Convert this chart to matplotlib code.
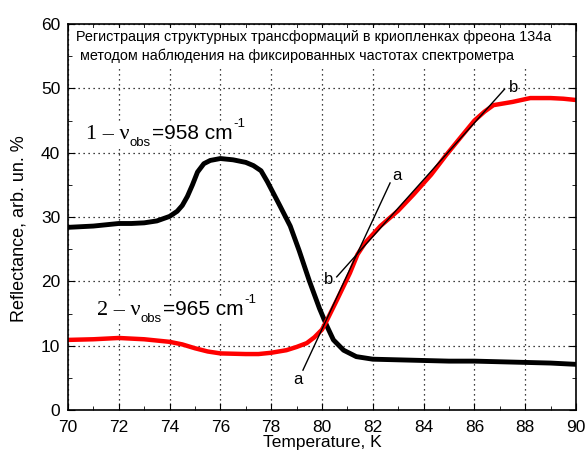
import matplotlib
matplotlib.use('Agg')
import matplotlib.pyplot as plt
from matplotlib.patches import Rectangle
from matplotlib.ticker import MultipleLocator

plt.rcParams['font.family'] = ['Liberation Sans', 'DejaVu Sans']

# curve 1 - nu_obs = 958 cm-1 (black)
t_black = [70.0, 70.5, 71.0, 71.5, 72.0, 72.5, 73.0, 73.5, 74.0, 74.3, 74.5, 74.7,
           74.9, 75.1, 75.35, 75.6, 76.0, 76.5, 77.0, 77.3, 77.6, 77.85, 78.1, 78.35,
           78.75, 79.1, 79.5, 79.9, 80.2, 80.45, 80.85, 81.35, 82.0, 83.0, 84.0, 85.0,
           86.0, 87.0, 88.0, 89.0, 90.0]
r_black = [28.4, 28.5, 28.6, 28.8, 29.0, 29.0, 29.1, 29.4, 30.1, 30.9, 31.8, 33.2,
           35.0, 37.0, 38.3, 38.8, 39.1, 38.9, 38.5, 38.0, 37.2, 35.5, 33.6, 31.7,
           28.6, 24.8, 20.1, 15.8, 13.0, 10.9, 9.3, 8.3, 7.9, 7.8, 7.7, 7.6,
           7.6, 7.5, 7.4, 7.3, 7.1]

# curve 2 - nu_obs = 965 cm-1 (red)
t_red = [70.0, 71.0, 72.0, 73.0, 74.0, 74.5, 75.0, 75.5, 76.0, 77.0, 77.5, 78.0,
         78.6, 79.0, 79.4, 79.7, 80.0, 80.2, 80.6, 81.1, 81.4, 81.7, 82.3, 83.0,
         83.6, 84.3, 84.9, 85.5, 86.0, 86.4, 86.75, 87.5, 88.2, 89.0, 89.5, 90.0]
r_red = [10.9, 11.0, 11.2, 11.0, 10.6, 10.2, 9.6, 9.1, 8.8, 8.7, 8.7, 8.9,
         9.3, 9.8, 10.4, 11.3, 12.5, 14.0, 17.2, 21.3, 24.2, 26.0, 28.6, 31.0,
         33.5, 36.6, 39.7, 42.6, 45.0, 46.4, 47.4, 47.9, 48.5, 48.5, 48.4, 48.2]

# tangent lines a and b
line_a_t = [79.25, 82.68]
line_a_r = [6.2, 35.3]
line_b_t = [80.58, 87.19]
line_b_r = [20.7, 49.9]

title_text = ("Регистрация структурных трансформаций в криопленках фреона 134а\n"
              " методом наблюдения на фиксированных частотах спектрометра")

fig = plt.figure(figsize=(5.88, 4.54), dpi=100)
ax = fig.add_axes([0.1156, 0.0969, 0.864, 0.850])

ax.plot(t_black, r_black, color='black', lw=3.5, zorder=2)
ax.plot(t_red, r_red, color='red', lw=3.2, zorder=2.1)
ax.plot(line_a_t, line_a_r, color='black', lw=1, zorder=3)
ax.plot(line_b_t, line_b_r, color='black', lw=1, zorder=3)

ax.text(79.05, 4.8, 'a', fontsize=12, ha='center', va='center')
ax.text(82.95, 36.4, 'a', fontsize=12, ha='center', va='center')
ax.text(80.25, 20.3, 'b', fontsize=12, ha='center', va='center')
ax.text(87.55, 50.1, 'b', fontsize=12, ha='center', va='center')


def curve_label(x, y, num, freq):
    box = dict(facecolor='white', edgecolor='none', pad=1.5)
    t1 = ax.text(x, y, num + ' \u2013 \u03bd', family='Liberation Serif', fontsize=16,
                 va='baseline', bbox=box, zorder=1.5)
    t2 = ax.annotate('obs', xy=(1, y), xycoords=(t1, 'data'), xytext=(0.5, -5),
                     textcoords='offset points', fontsize=9.5, va='baseline',
                     bbox=box, zorder=1.5)
    t3 = ax.annotate('=' + freq + ' cm', xy=(1, y), xycoords=(t2, 'data'),
                     xytext=(0.5, 0), textcoords='offset points',
                     fontsize=15, va='baseline', bbox=box, zorder=1.5)
    ax.annotate('-1', xy=(1, y), xycoords=(t3, 'data'), xytext=(0.5, 8.5),
                textcoords='offset points', fontsize=9.5, va='baseline',
                bbox=box, zorder=1.5)


curve_label(70.7, 42.2, '1', '958')
curve_label(71.13, 14.8, '2', '965')

# white area behind the title text
ax.add_patch(Rectangle((0.015, 0.885), 0.97, 0.105, transform=ax.transAxes,
                       facecolor='white', edgecolor='none', zorder=1))
ax.text(0.016, 0.984, title_text, transform=ax.transAxes, fontsize=10.4,
        va='top', ha='left', linespacing=1.4, zorder=3)

ax.set_xlim(70, 90)
ax.set_ylim(0, 60)
ax.xaxis.set_major_locator(MultipleLocator(2))
ax.xaxis.set_minor_locator(MultipleLocator(1))
ax.yaxis.set_major_locator(MultipleLocator(10))
ax.yaxis.set_minor_locator(MultipleLocator(5))
ax.tick_params(which='both', direction='in', top=True, right=True, labelsize=12.5)
ax.tick_params(which='major', length=5)
ax.tick_params(which='minor', length=2.6)
ax.tick_params(axis='x', which='major', pad=7.5)
ax.tick_params(axis='y', which='major', pad=5.5)
ax.set_axisbelow(True)
ax.grid(True, which='major', color='black', linestyle=(0, (1, 3)), lw=0.9)
for s in ax.spines.values():
    s.set_linewidth(1.2)

ax.set_xlabel('Temperature, K', fontsize=12.5, labelpad=0)
ax.set_ylabel('Reflectance, arb. un. %', fontsize=13)
ax.yaxis.set_label_coords(-0.08, 0.47)

fig.savefig('out.png', dpi=100)
